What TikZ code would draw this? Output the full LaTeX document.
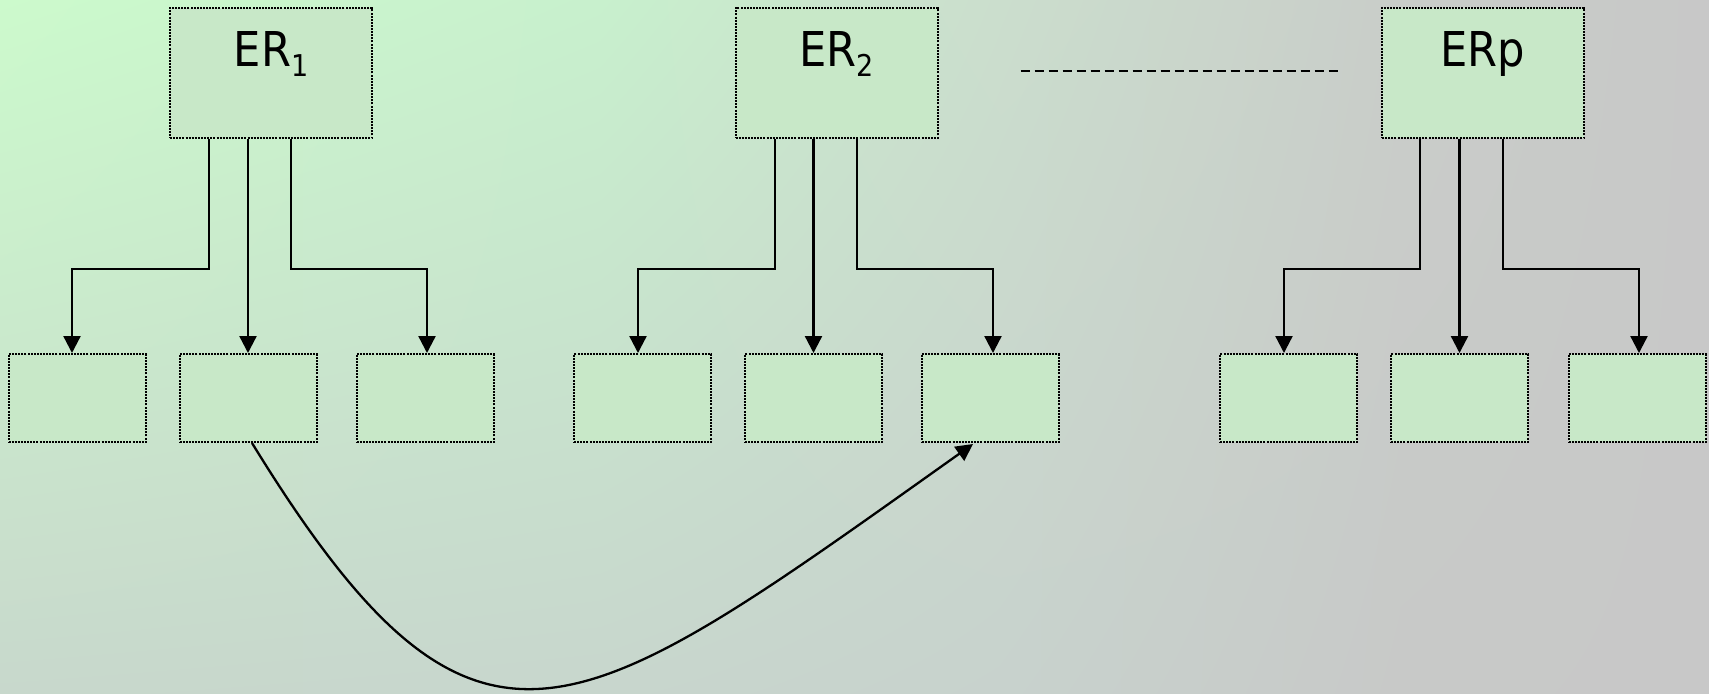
\documentclass[tikz,border=0pt]{standalone}
\usepackage{fontspec}
\setmainfont{DejaVu Sans Condensed}
\usetikzlibrary{arrows.meta,calc,shadings}
\definecolor{tA}{RGB}{204,250,204}
\definecolor{tB}{RGB}{200,240,205}
\definecolor{tC}{RGB}{203,222,205}
\definecolor{tD}{RGB}{201,205,201}
\definecolor{tE}{RGB}{200,200,200}
\definecolor{bA}{RGB}{200,216,204}
\definecolor{bB}{RGB}{200,214,205}
\definecolor{bC}{RGB}{200,210,205}
\definecolor{bD}{RGB}{200,201,200}
\definecolor{bE}{RGB}{200,200,200}
\definecolor{boxfill}{RGB}{200,232,200}
\tikzset{
  erbox/.style={draw, line width=1pt, dash pattern=on 1pt off 0.55pt, fill=boxfill,
    minimum width=101pt, minimum height=65pt, inner sep=0pt},
  smallbox/.style={draw, line width=1pt, dash pattern=on 1pt off 0.55pt, fill=boxfill,
    minimum width=68.5pt, minimum height=44pt, inner sep=0pt},
  ertext/.style={anchor=base, inner sep=0pt, font=\fontsize{24}{28}\selectfont},
  arr/.style={line width=1.15pt, -{Triangle[length=8.5pt,width=8.5pt]}},
  dline/.style={line width=0.75pt, dash pattern=on 4.5pt off 2.5pt}
}
\newcommand{\mysub}[1]{\raisebox{-5pt}{\fontsize{15}{15}\selectfont #1}}
\begin{document}
\begin{tikzpicture}[x=0.5pt,y=-0.5pt]
\shade[upper left=tA, upper right=tB, lower left=bA, lower right=bB] (0,0) rectangle (601,693);
\shade[upper left=tB, upper right=tC, lower left=bB, lower right=bC] (600,0) rectangle (1001,693);
\shade[upper left=tC, upper right=tD, lower left=bC, lower right=bD] (1000,0) rectangle (1401,693);
\shade[upper left=tD, upper right=tE, lower left=bD, lower right=bE] (1400,0) rectangle (1709,693);
\useasboundingbox (0,0) rectangle (1709,693);

% top boxes
\node[erbox] (er1) at (271,73) {};
\node[erbox] (er2) at (836.5,73) {};
\node[erbox] (erp) at (1483,73) {};
\node[ertext] (t1) at ($(er1.north)+(0,59)$) {ER\mysub{1}};
\node[ertext] (t2) at ($(er2.north)+(0,59)$) {ER\mysub{2}};
\node[ertext] (tp) at ($(erp.north)+(0,59)$) {ERp};

% bottom boxes
\node[smallbox] (b1) at (77,398) {};
\node[smallbox] (b2) at (248,398) {};
\node[smallbox] (b3) at (425,398) {};
\node[smallbox] (b4) at (642.5,398) {};
\node[smallbox] (b5) at (813.5,398) {};
\node[smallbox] (b6) at (990,398) {};
\node[smallbox] (b7) at (1288.5,398) {};
\node[smallbox] (b8) at (1459.5,398) {};
\node[smallbox] (b9) at (1637,398) {};

% connectors ER1
\draw[arr] ($(er1.south)+(-62,0)$) -- ++(0,130) -| ($(b1.north)+(-5,0)$);
\draw[arr] (er1.south -| b2.north) -- (b2.north);
\draw[arr] ($(er1.south)+(20,0)$) -- ++(0,130) -| ($(b3.north)+(2,0)$);
% connectors ER2
\draw[arr] ($(er2.south)+(-61.5,0)$) -- ++(0,130) -| ($(b4.north)+(-4.5,0)$);
\draw[arr] (er2.south -| b5.north) -- (b5.north);
\draw[arr] ($(er2.south)+(20.5,0)$) -- ++(0,130) -| ($(b6.north)+(3,0)$);
% connectors ERp
\draw[arr] ($(erp.south)+(-63,0)$) -- ++(0,130) -| ($(b7.north)+(-4.5,0)$);
\draw[arr] (erp.south -| b8.north) -- (b8.north);
\draw[arr] ($(erp.south)+(20,0)$) -- ++(0,130) -| ($(b9.north)+(2,0)$);

% dashed line
\coordinate (d1) at ($(er2.east)+(82,-2)$);
\coordinate (d2) at ($(erp.west)+(-41,-2)$);
\draw[dline] (d1) -- (d2);

% curve
\coordinate (cs) at ($(b2.south)+(4,0)$);
\coordinate (ce) at ($(b6.south)+(-17,1)$);
\draw[arr] (cs) .. controls ($(cs)+(225,366)$) and ($(ce)+(-400,284)$) .. (ce);
\end{tikzpicture}
\end{document}
